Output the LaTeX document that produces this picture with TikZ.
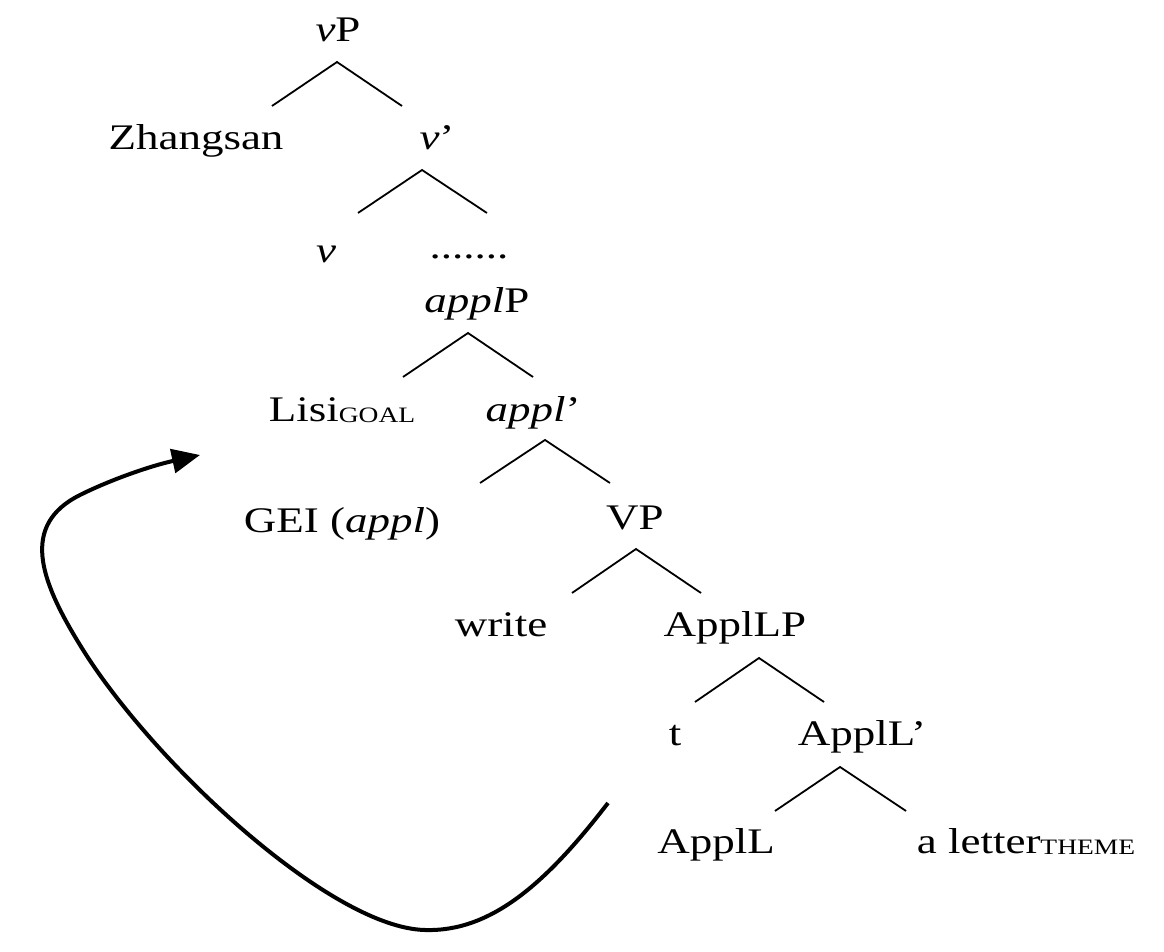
\documentclass[tikz,border=0pt]{standalone}
\usepackage{fontspec}
\setmainfont{Liberation Serif}[FakeStretch=1.25]
\usepackage{tikz}
\usetikzlibrary{arrows.meta}
\tikzstyle{word} = [inner sep=0pt, anchor=base, font=\fontsize{18}{20}\selectfont]
\tikzstyle{branch} = [draw, line width=0.9pt]
\tikzstyle{move} = [draw, line width=2pt, -{Triangle[length=14pt,width=12pt]}]
\newcommand{\role}[1]{\raisebox{-0.5pt}{\fontsize{11}{11}\selectfont #1}}

\begin{document}
\begin{tikzpicture}[x=0.5pt, y=-0.5pt]
    \useasboundingbox (0,0) rectangle (1164,952);

    \node [word] (vP) at (338,42) {\textit{v}P};
    \node [word] (zhangsan) at (196,150) {Zhangsan};
    \node [word] (vbar) at (437,150) {\textit{v}'};
    \node [word] (v) at (326,263) {\textit{v}};
    \node [word] (dots) at (469,259) {.......};
    \node [word] (applP) at (477,313) {\textit{appl}P};
    \node [word] (lisi) at (342,422) {Lisi\role{GOAL}};
    \node [word] (applbar) at (533,422) {\textit{appl}'};
    \node [word] (gei) at (342,533) {GEI (\textit{appl})};
    \node [word] (VP) at (635,530) {VP};
    \node [word] (write) at (501,637) {write};
    \node [word] (applLP) at (735,637) {ApplLP};
    \node [word] (t) at (675,746) {t};
    \node [word] (applLbar) at (862,746) {ApplL'};
    \node [word] (applL) at (716,853) {ApplL};
    \node [word] (letter) at (1026,853) {a letter\role{THEME}};

    % forks under the phrases
    \coordinate (vPfork) at (337,62);
    \coordinate (vbarfork) at (422,170);
    \coordinate (applPfork) at (468,333);
    \coordinate (applbarfork) at (545,440);
    \coordinate (VPfork) at (636,549);
    \coordinate (applLPfork) at (759,658);
    \coordinate (applLbarfork) at (840,767);

    % Draw edges
    \path [branch] (vPfork) +(-65,44) -- (vPfork) -- +(65,44);
    \path [branch] (vbarfork) +(-64,43) -- (vbarfork) -- +(65,43);
    \path [branch] (applPfork) +(-65,44) -- (applPfork) -- +(65,44);
    \path [branch] (applbarfork) +(-65,43) -- (applbarfork) -- +(65,43);
    \path [branch] (VPfork) +(-64,44) -- (VPfork) -- +(65,44);
    \path [branch] (applLPfork) +(-64,44) -- (applLPfork) -- +(65,44);
    \path [branch] (applLbarfork) +(-65,44) -- (applLbarfork) -- +(66,44);

    % movement of the goal
    \coordinate (trace) at (608,803);
    \coordinate (landing) at (200,455);
    \path [move] (trace) .. controls (545,885) and (490,932) .. (425,930)
        .. controls (330,928) and (150,760) .. (80,645)
        .. controls (40,580) and (20,525) .. (80,495)
        .. controls (110,480) and (150,466) .. (landing);
\end{tikzpicture}
\end{document}
